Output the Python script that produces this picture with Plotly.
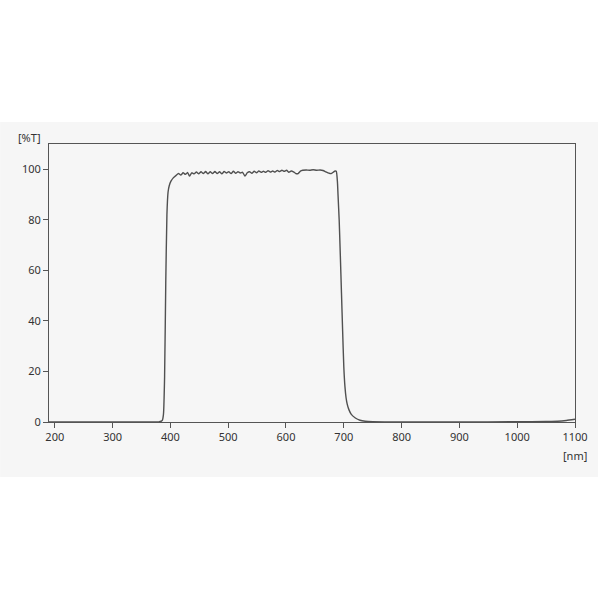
import plotly.graph_objects as go

wavelength_nm = [190, 300, 370, 380, 384, 386, 388, 390, 392, 394, 396, 398, 401, 405, 410, 414,
                 418, 422, 426, 430, 433, 437, 441, 445, 449, 453, 457, 461, 465, 469, 473, 477,
                 481, 485, 489, 493, 497, 501, 505, 509, 513, 517, 521, 525, 529, 533, 537, 541,
                 545, 549, 553, 557, 561, 565, 569, 573, 577, 581, 585, 589, 593, 597, 601, 605,
                 609, 613, 617, 621, 625, 629, 635, 641, 647, 653, 659, 664, 669, 674, 678, 682,
                 685, 687, 689, 690, 692, 694, 696, 698, 700, 702, 704, 706, 709, 713, 720, 728,
                 737, 750, 770, 800, 900, 1000, 1050, 1070, 1085, 1100]
transmission_pct = [0, 0, 0, 0.05, 0.3, 0.6, 3, 18, 55, 82, 91, 93.5, 95.3, 96.6, 97.6, 98.3,
                    97.7, 98.6, 98.0, 98.7, 97.3, 98.6, 98.2, 98.9, 98.2, 99.0, 98.3, 99.1, 98.2, 99.0, 98.3, 99.1,
                    98.3, 99.0, 98.2, 99.1, 98.5, 99.0, 98.3, 99.2, 98.4, 99.0, 98.5, 98.8, 97.3, 98.6, 99.0, 98.4,
                    99.2, 98.6, 99.3, 98.8, 99.2, 98.8, 99.4, 98.9, 99.3, 98.9, 99.5, 99.1, 99.6, 99.2, 99.6, 98.8,
                    99.3, 99.0, 98.3, 98.3, 99.3, 99.6, 99.7, 99.6, 99.8, 99.6, 99.7, 99.5, 99.0, 98.5, 98.3, 98.9,
                    99.3, 99.2, 95, 90, 80, 66, 51, 36, 22, 14, 9.5, 7, 4.8, 3, 1.6, 0.7,
                    0.3, 0.12, 0.05, 0.02, 0.0, 0.1, 0.2, 0.3, 0.6, 1.1]

x_ticks = [200, 300, 400, 500, 600, 700, 800, 900, 1000, 1100]
y_ticks = [0, 20, 40, 60, 80, 100]

bg = "#f6f6f6"
axis_col = "#555555"
font_col = "#333333"

fig = go.Figure()
fig.add_trace(go.Scatter(x=wavelength_nm, y=transmission_pct, mode="lines",
                         line=dict(color="#505050", width=1.4, shape="spline", smoothing=0.5),
                         hoverinfo="skip"))

L, R, T, B = 49, 23, 144, 178
pw, ph = 600 - L - R, 600 - T - B

fig.add_shape(type="rect", xref="paper", yref="paper",
              x0=(0 - L) / pw, x1=(600 - L) / pw,
              y0=(ph - (477 - T)) / ph, y1=(ph - (122 - T)) / ph,
              fillcolor=bg, line=dict(width=0), layer="below")

fig.update_layout(
    width=600, height=600,
    margin=dict(l=L, r=R, t=T, b=B),
    paper_bgcolor="white", plot_bgcolor=bg,
    showlegend=False,
    font=dict(family="Noto Sans", size=11, color=font_col),
    xaxis=dict(range=[190, 1100], tickvals=x_ticks, ticks="outside", ticklen=5,
               tickcolor=axis_col, showline=True, linecolor=axis_col, linewidth=1,
               mirror=True, showgrid=False, zeroline=False, tickfont=dict(size=11, color=font_col)),
    yaxis=dict(range=[0, 110], tickvals=y_ticks, ticks="outside", ticklen=5,
               tickcolor=axis_col, showline=True, linecolor=axis_col, linewidth=1,
               mirror=True, showgrid=False, zeroline=False, tickfont=dict(size=11, color=font_col)),
    annotations=[
        dict(text="[%T]", xref="paper", yref="paper", x=(29 - L) / pw, y=(ph - (138 - T)) / ph,
             showarrow=False, xanchor="center", yanchor="middle", font=dict(size=11, color=font_col)),
        dict(text="[nm]", xref="paper", yref="paper", x=1.0, y=(ph - (455 - T)) / ph,
             showarrow=False, xanchor="center", yanchor="middle", font=dict(size=11, color=font_col)),
    ],
)

fig.write_html("out.html", config={"displayModeBar": False},
               post_script="document.body.style.margin='0';document.body.style.overflow='hidden';")
